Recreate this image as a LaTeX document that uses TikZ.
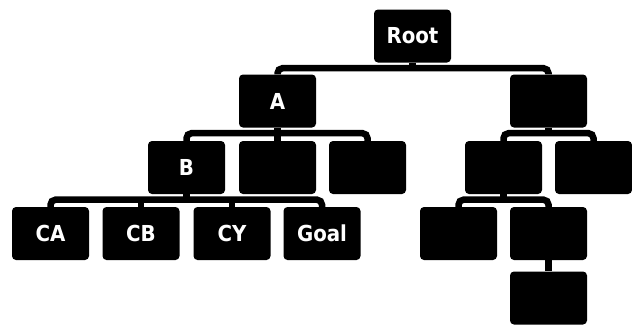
\documentclass[tikz,border=0pt]{standalone}
\usepackage{fontspec}
\setmainfont{DejaVu Sans Condensed}
\begin{document}
\begin{tikzpicture}[x=1pt,y=-1pt,
  tbox/.style={fill=black,rounded corners=4pt,minimum width=77pt,minimum height=53pt,
    inner sep=0pt,text=white,font=\fontsize{22}{24}\selectfont\bfseries},
  conn/.style={draw=black,line width=6.5pt,rounded corners=5pt}]
\useasboundingbox (0,0) rectangle (632,325);
% level 0
\node[tbox] (root) at (412.5,36) {Root};
% level 1
\node[tbox] (a)  at (277.5,101) {A};
\node[tbox] (r1) at (548.5,101) {};
% level 2
\node[tbox] (b)   at (186.5,167.5) {B};
\node[tbox] (a2)  at (277.5,167.5) {};
\node[tbox] (a3)  at (367.5,167.5) {};
\node[tbox] (r2a) at (503.5,167.5) {};
\node[tbox] (r2b) at (593.5,167.5) {};
% level 3
\node[tbox] (ca)   at (50.5,233.5) {CA};
\node[tbox] (cb)   at (141,233.5) {CB};
\node[tbox] (cy)   at (232,233.5) {CY};
\node[tbox] (goal) at (322,233.5) {Goal};
\node[tbox] (r3a)  at (458.5,233.5) {};
\node[tbox] (r3b)  at (548.5,233.5) {};
% level 4
\node[tbox] (r4) at (548.5,298) {};
% bar levels below each parent
\coordinate (rootbar) at ([yshift=-5.5pt]root.south);
\coordinate (abar)    at ([yshift=-5.5pt]a.south);
\coordinate (r1bar)   at ([yshift=-5.5pt]r1.south);
\coordinate (bbar)    at ([yshift=-5.5pt]b.south);
\coordinate (r2abar)  at ([yshift=-5.5pt]r2a.south);
% root
\draw[conn] (root.south) -- (rootbar);
\draw[conn] (a.north) |- (rootbar) -| (r1.north);
% A
\draw[conn] (a.south) -- (abar);
\draw[conn] (b.north) |- (abar) -| (a3.north);
\draw[conn] (a2.north) -- (a2.north |- abar);
% right subtree
\draw[conn] (r1.south) -- (r1bar);
\draw[conn] (r2a.north) |- (r1bar) -| (r2b.north);
\draw[conn] (r2a.south) -- (r2abar);
\draw[conn] (r3a.north) |- (r2abar) -| (r3b.north);
\draw[conn] (r3b.south) -- (r4.north);
% B
\draw[conn] (b.south) -- (bbar);
\draw[conn] (ca.north) |- (bbar) -| (goal.north);
\draw[conn] (cb.north) -- (cb.north |- bbar);
\draw[conn] (cy.north) -- (cy.north |- bbar);
\end{tikzpicture}
\end{document}
